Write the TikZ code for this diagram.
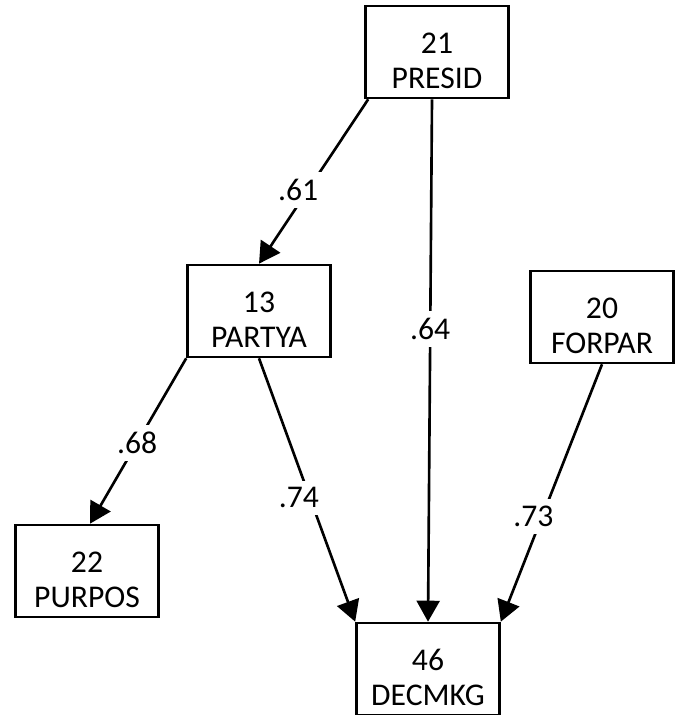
\documentclass[tikz,border=0pt]{standalone}
\usepackage{fontspec}
\setmainfont{Carlito}
\usepackage{tikz}
\usetikzlibrary{arrows.meta}

\begin{document}
\begin{tikzpicture}[
    x=0.02cm,
    y=-0.02cm,
    every node/.style={font=\fontsize{18}{20}\selectfont},
    var/.style={draw=black, line width=1.5pt, minimum width=2.86cm, minimum height=1.84cm, align=center, inner sep=0pt},
    effect/.style={-{Triangle[length=0.42cm, width=0.46cm]}, line width=1.5pt},
    coef/.style={fill=white, inner sep=4pt}
  ]
    \useasboundingbox (0,0) rectangle (678,715);

    \node[var] (presid) at (437,52) {\rule{0pt}{0.75cm}21\\PRESID};
    \node[var] (partya) at (259,311) {\rule{0pt}{0.75cm}13\\PARTYA};
    \node[var] (forpar) at (602,317) {\rule{0pt}{0.75cm}20\\FORPAR};
    \node[var] (purpos) at (87,571) {\rule{0pt}{0.75cm}22\\PURPOS};
    \node[var] (decmkg) at (428,669) {\rule{0pt}{0.75cm}46\\DECMKG};

    \draw[effect] ([xshift=0.08cm]presid.south west) -- (partya.north)
      node[coef, pos=0.55, xshift=-0.2cm] (c61) {.61};
    \draw[effect] ([xshift=-0.1cm]presid.south) -- (decmkg.north)
      node[coef, pos=0.44] (c64) {.64};
    \draw[effect] (partya.south west) -- ([xshift=0.06cm]purpos.north)
      node[coef, pos=0.51] (c68) {.68};
    \draw[effect] (partya.south) -- (decmkg.north west)
      node[coef, pos=0.53, xshift=-0.22cm] (c74) {.74};
    \draw[effect] (forpar.south) -- (decmkg.north east)
      node[coef, pos=0.59, xshift=-0.18cm] (c73) {.73};
  \end{tikzpicture}
\end{document}
